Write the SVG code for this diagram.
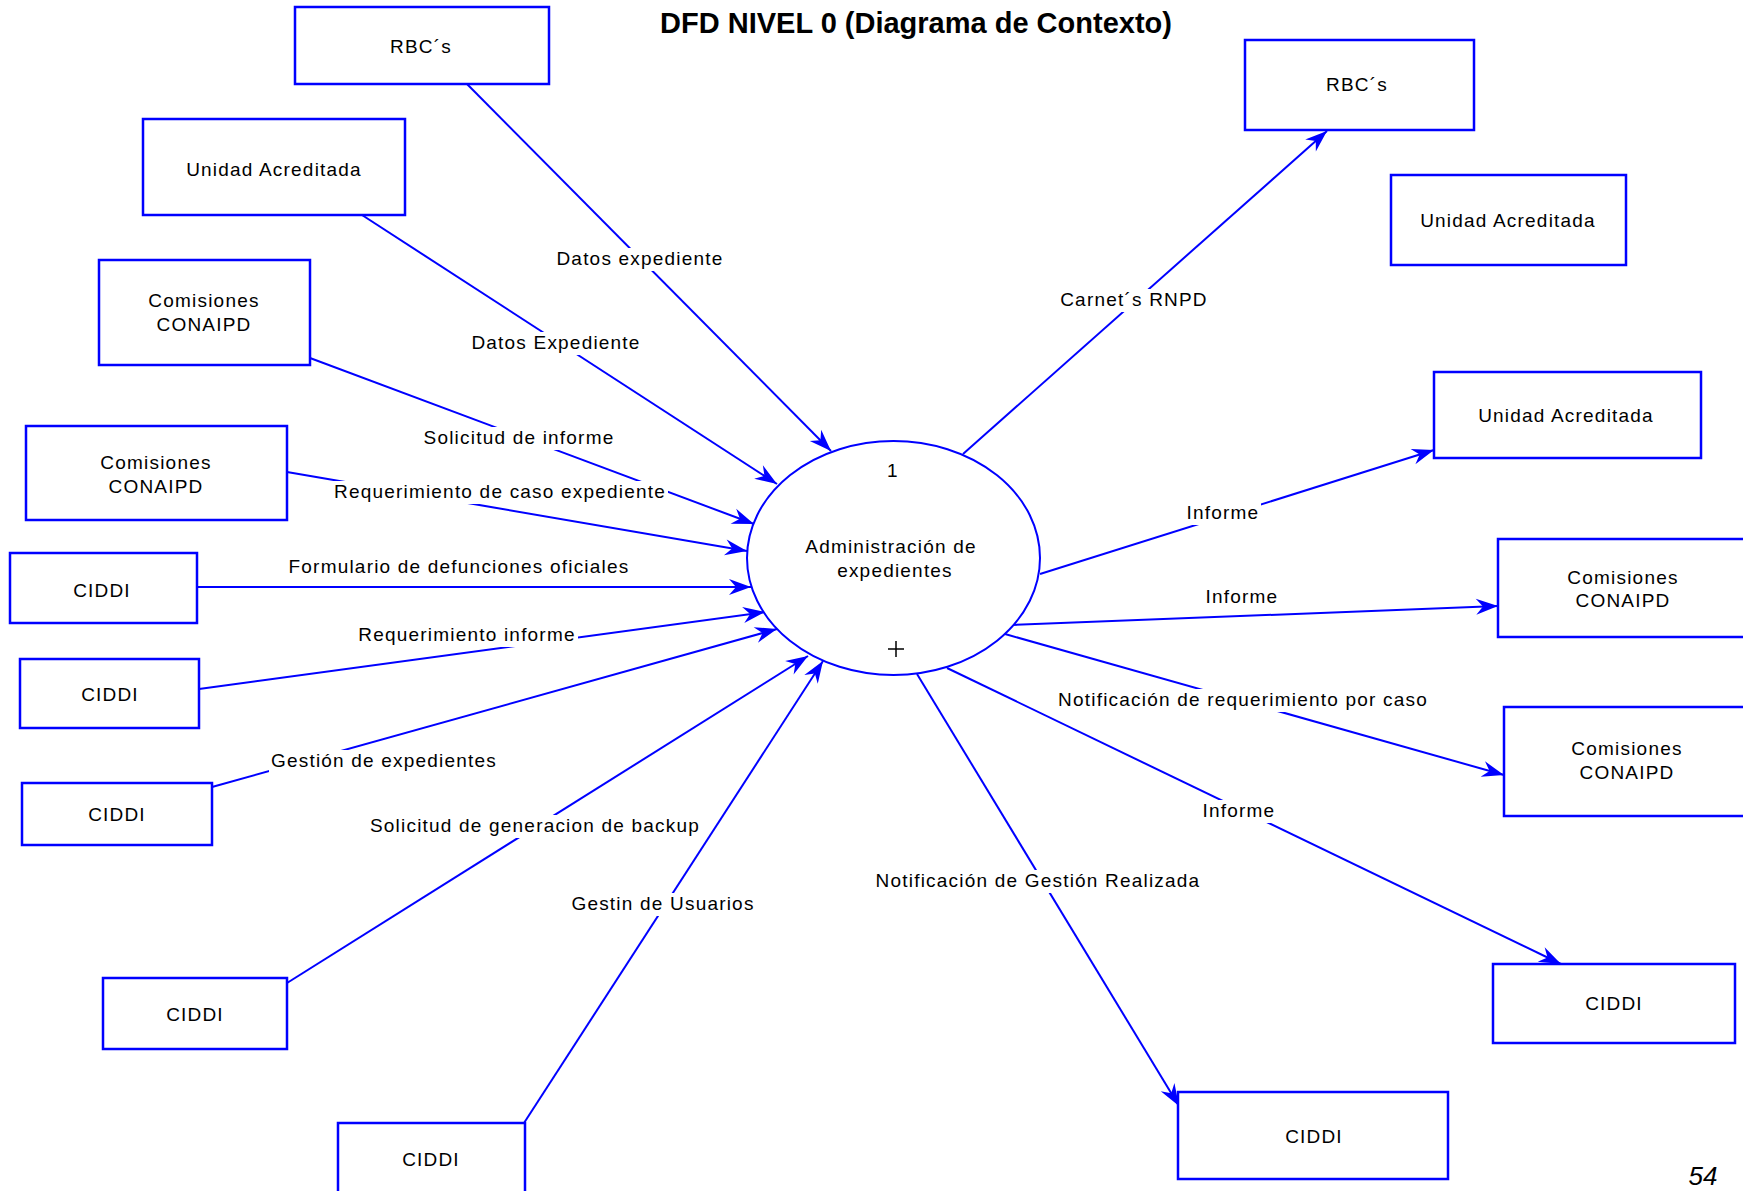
<svg xmlns="http://www.w3.org/2000/svg" width="1743" height="1191" viewBox="0 0 1743 1191">
<style>
.box{fill:#fff;stroke:#0000ff;stroke-width:2.5}
.t{font-family:"Liberation Sans",Arial,sans-serif;font-size:19px;letter-spacing:1.2px;fill:#000;text-anchor:middle}
.c{stroke:#0000ff;stroke-width:2;fill:none;marker-end:url(#ah)}
.bg{fill:#fff;stroke:none}
</style>
<defs>
<marker id="ah" markerUnits="userSpaceOnUse" markerWidth="30" markerHeight="30" viewBox="-26 -10 30 20" refX="0" refY="0" orient="auto">
<path d="M0,0 L-22,-8 L-15,0 L-22,8 Z" fill="#0000ff"/>
</marker>
</defs>
<rect width="1743" height="1191" fill="#fff"/>
<text x="916" y="33" font-family="Liberation Sans,Arial,sans-serif" font-size="29" font-weight="bold" text-anchor="middle" fill="#000">DFD NIVEL 0 (Diagrama de Contexto)</text>
<g id="connectors">
<line class="c" x1="467" y1="84" x2="831" y2="451"/>
<line class="c" x1="362" y1="215" x2="777" y2="484"/>
<line class="c" x1="310" y1="358" x2="754" y2="524"/>
<line class="c" x1="287" y1="472" x2="747" y2="551"/>
<line class="c" x1="198" y1="587" x2="751" y2="587"/>
<line class="c" x1="199" y1="689" x2="765" y2="612"/>
<line class="c" x1="212" y1="787" x2="777" y2="629"/>
<line class="c" x1="287" y1="983" x2="808" y2="656"/>
<line class="c" x1="524" y1="1123" x2="823" y2="661"/>
<line class="c" x1="963" y1="454" x2="1327" y2="131"/>
<line class="c" x1="1040" y1="574" x2="1434" y2="450"/>
<line class="c" x1="1012" y1="625" x2="1498" y2="606"/>
<line class="c" x1="1005" y1="634" x2="1504" y2="775"/>
<line class="c" x1="947" y1="668" x2="1561" y2="964"/>
<line class="c" x1="917" y1="674" x2="1179" y2="1106"/>
<rect class="bg" x="554" y="248" width="173" height="23"/>
<text class="t" x="640" y="265">Datos expediente</text>
<rect class="bg" x="469" y="332" width="175" height="23"/>
<text class="t" x="556" y="349">Datos Expediente</text>
<rect class="bg" x="421" y="427" width="197" height="23"/>
<text class="t" x="519" y="444">Solicitud de informe</text>
<rect class="bg" x="332" y="481" width="336" height="23"/>
<text class="t" x="500" y="498">Requerimiento de caso expediente</text>
<rect class="bg" x="286" y="556" width="346" height="23"/>
<text class="t" x="459" y="573">Formulario de defunciones oficiales</text>
<rect class="bg" x="356" y="624" width="222" height="23"/>
<text class="t" x="467" y="641">Requerimiento informe</text>
<rect class="bg" x="269" y="750" width="230" height="23"/>
<text class="t" x="384" y="767">Gestión de expedientes</text>
<rect class="bg" x="368" y="815" width="334" height="23"/>
<text class="t" x="535" y="832">Solicitud de generacion de backup</text>
<rect class="bg" x="569" y="893" width="188" height="23"/>
<text class="t" x="663" y="910">Gestin de Usuarios</text>
<rect class="bg" x="1058" y="289" width="152" height="23"/>
<text class="t" x="1134" y="306">Carnet´s RNPD</text>
<rect class="bg" x="1185" y="502" width="76" height="23"/>
<text class="t" x="1223" y="519">Informe</text>
<rect class="bg" x="1204" y="586" width="76" height="23"/>
<text class="t" x="1242" y="603">Informe</text>
<rect class="bg" x="1054" y="689" width="378" height="23"/>
<text class="t" x="1243" y="706">Notificación de requerimiento por caso</text>
<rect class="bg" x="1201" y="800" width="76" height="23"/>
<text class="t" x="1239" y="817">Informe</text>
<rect class="bg" x="871" y="870" width="334" height="23"/>
<text class="t" x="1038" y="887">Notificación de Gestión Realizada</text>
</g>
<g id="p1">
<ellipse cx="893.5" cy="558" rx="146.5" ry="117" fill="#fff" stroke="#0000ff" stroke-width="2"/>
<text class="t" x="893" y="477">1</text>
<text class="t" x="891" y="553">Administración de</text>
<text class="t" x="895" y="577">expedientes</text>
<path d="M888,649 H904 M896,641 V657" stroke="#000" stroke-width="1.5"/>
</g>
<g id="e1"><rect class="box" x="295" y="7" width="254" height="77"/><text class="t" x="421" y="53">RBC´s</text></g>
<g id="e2"><rect class="box" x="143" y="119" width="262" height="96"/><text class="t" x="274" y="176">Unidad Acreditada</text></g>
<g id="e3"><rect class="box" x="99" y="260" width="211" height="105"/><text class="t" x="204" y="307">Comisiones</text><text class="t" x="204" y="331">CONAIPD</text></g>
<g id="e4"><rect class="box" x="26" y="426" width="261" height="94"/><text class="t" x="156" y="469">Comisiones</text><text class="t" x="156" y="493">CONAIPD</text></g>
<g id="e5"><rect class="box" x="10" y="553" width="187" height="70"/><text class="t" x="102" y="597">CIDDI</text></g>
<g id="e6"><rect class="box" x="20" y="659" width="179" height="69"/><text class="t" x="110" y="701">CIDDI</text></g>
<g id="e7"><rect class="box" x="22" y="783" width="190" height="62"/><text class="t" x="117" y="821">CIDDI</text></g>
<g id="e8"><rect class="box" x="103" y="978" width="184" height="71"/><text class="t" x="195" y="1021">CIDDI</text></g>
<g id="e9"><rect class="box" x="338" y="1123" width="187" height="90"/><text class="t" x="431" y="1166">CIDDI</text></g>
<g id="e10"><rect class="box" x="1245" y="40" width="229" height="90"/><text class="t" x="1357" y="91">RBC´s</text></g>
<g id="e11"><rect class="box" x="1391" y="175" width="235" height="90"/><text class="t" x="1508" y="227">Unidad Acreditada</text></g>
<g id="e12"><rect class="box" x="1434" y="372" width="267" height="86"/><text class="t" x="1566" y="422">Unidad Acreditada</text></g>
<g id="e13"><rect class="box" x="1498" y="539" width="260" height="98"/><text class="t" x="1623" y="584">Comisiones</text><text class="t" x="1623" y="607">CONAIPD</text></g>
<g id="e14"><rect class="box" x="1504" y="707" width="260" height="109"/><text class="t" x="1627" y="755">Comisiones</text><text class="t" x="1627" y="779">CONAIPD</text></g>
<g id="e15"><rect class="box" x="1493" y="964" width="242" height="79"/><text class="t" x="1614" y="1010">CIDDI</text></g>
<g id="e16"><rect class="box" x="1178" y="1092" width="270" height="87"/><text class="t" x="1314" y="1143">CIDDI</text></g>
<text x="1703" y="1185" font-family="Liberation Sans,Arial,sans-serif" font-size="26" font-style="italic" text-anchor="middle" fill="#000">54</text>
</svg>
